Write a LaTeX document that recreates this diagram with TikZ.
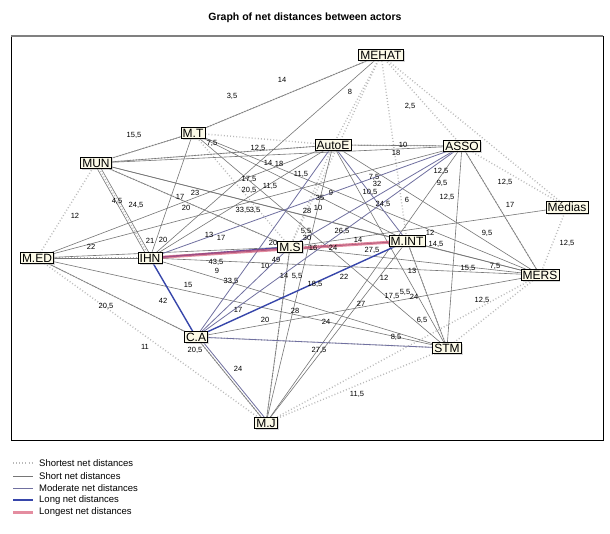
\documentclass[tikz,border=0pt]{standalone}
\usepackage{fontspec}
\setmainfont{Liberation Sans}
\usetikzlibrary{shadows}
\pgfdeclarelayer{bg}
\pgfdeclarelayer{paper}
\pgfsetlayers{paper,bg,main}
\definecolor{shortc}{RGB}{118,118,118}
\definecolor{dotc}{RGB}{185,185,185}
\definecolor{modc}{RGB}{112,112,160}
\definecolor{longc}{RGB}{55,70,170}
\definecolor{longestc}{RGB}{215,80,110}
\definecolor{boxfill}{RGB}{252,250,232}
\tikzset{
  actor/.style={draw=black, line width=0.8pt, fill=boxfill, inner sep=1.6pt,
    font=\fontsize{12}{12}\selectfont, drop shadow={shadow xshift=1.5pt, shadow yshift=-1.5pt, fill=gray!60}},
  shortest/.style={draw=dotc, line width=1.4pt, dash pattern=on 0.9pt off 2.2pt},
  short/.style={draw=shortc, line width=0.6pt},
  moderate/.style={draw=modc, line width=0.8pt},
  longd/.style={draw=longc, line width=1.4pt},
  longest/.style={draw=longestc, line width=3pt, opacity=0.65},
  lbl/.style={font=\fontsize{7.5}{7.5}\selectfont, inner sep=0pt},
  legtxt/.style={font=\fontsize{9.5}{9.5}\selectfont, anchor=west, inner sep=0pt}
}
\begin{document}
\begin{tikzpicture}[x=1pt,y=-1pt]
\useasboundingbox (0,0) rectangle (610,533);
\begin{pgfonlayer}{paper}
\fill[white] (0,0) rectangle (610,533);
\end{pgfonlayer}
\node[font=\bfseries\fontsize{10.5}{10.5}\selectfont] (title) at (305,18) {Graph of net distances between actors};
\draw[black, line width=0.8pt] (11,36) rectangle (603,440);
\draw[gray, line width=1.6pt] (11,36) -- (603,36);

% actors
\node[actor] (MEHAT) at (381,55) {MEHAT};
\node[actor] (ASSO) at (462,146) {ASSO};
\node[actor] (AutoE) at (333,145) {AutoE};
\node[actor] (MT) at (193,133) {M.T};
\node[actor] (MUN) at (96,163) {MUN};
\node[actor] (MED) at (37,258) {M.ED};
\node[actor] (IHN) at (150,258) {IHN};
\node[actor] (MS) at (290,247) {M.S};
\node[actor] (MINT) at (407,241) {M.INT};
\node[actor] (Medias) at (567,207) {Médias};
\node[actor] (MERS) at (540,275) {MERS};
\node[actor] (CA) at (196,337) {C.A};
\node[actor] (STM) at (447,348) {STM};
\node[actor] (MJ) at (266,423) {M.J};

\begin{pgfonlayer}{bg}
\foreach \a/\b in {MED/MUN, MED/MJ, MED/CA, MUN/MT, MUN/AutoE, MUN/IHN, MT/MEHAT, MT/AutoE, MT/MS,
  MEHAT/AutoE, MEHAT/ASSO, MEHAT/Medias, MEHAT/MINT, MEHAT/MS, ASSO/Medias, ASSO/MERS, Medias/MERS,
  MERS/STM, STM/MJ, MJ/CA, MERS/MJ, AutoE/ASSO, MS/MINT, CA/STM, IHN/MS, AutoE/MS, MUN/MS, MED/IHN,
  MJ/MS, STM/MINT}
  \draw[shortest] (\a.center) -- (\b.center);
\foreach \a/\b in {MUN/MT, MT/MEHAT, MEHAT/IHN, MUN/AutoE, MUN/ASSO, MUN/MINT, MUN/MERS, MUN/MS,
  MT/IHN, MT/MINT, MT/MERS, MED/AutoE, MED/IHN, MED/CA, MED/MS, MED/STM, IHN/AutoE, IHN/MERS,
  IHN/STM, AutoE/MJ, AutoE/STM, AutoE/MERS, AutoE/ASSO, ASSO/STM, ASSO/MERS, ASSO/MJ, Medias/MS,
  MERS/CA, MERS/MINT, MERS/MS, STM/MINT, MJ/MS, MJ/MINT, MJ/CA, MT/STM, MED/ASSO}
  \draw[short] (\a.center) -- (\b.center);
\draw[short] ([xshift=-2pt]MUN.center) -- ([xshift=-2pt]IHN.center);
\draw[short] ([xshift=2pt]MUN.center) -- ([xshift=2pt]IHN.center);
\foreach \a/\b in {CA/STM, CA/AutoE, CA/ASSO, IHN/ASSO, MS/ASSO, CA/MS, IHN/MINT, AutoE/MINT}
  \draw[moderate] (\a.center) -- (\b.center);
\draw[moderate] ([xshift=3pt]CA.center) -- ([xshift=3pt]MJ.center);
\foreach \a/\b in {IHN/CA, CA/MINT, IHN/MS}
  \draw[longd] (\a.center) -- (\b.center);
\draw[longest] (IHN.center) -- (MINT.center);
\end{pgfonlayer}

% distance labels
\foreach \x/\y/\t [count=\i] in {
 282/80/14, 232/96/{3,5}, 350/92/8, 410/106/{2,5}, 134/135/{15,5}, 212/143/{7,5}, 258/148/{12,5},
 268/163/14, 279/164/18, 403/145/10, 396/153/18, 249/179/{17,5}, 249/190/{20,5}, 270/186/{11,5},
 301/174/{11,5}, 195/193/23, 180/197/17, 186/208/20, 117/201/{4,5}, 136/205/{24,5}, 75/216/12,
 243/210/{33,5}, 255/210/{3,5}, 320/198/35, 331/193/9, 307/211/28, 318/208/10, 374/177/{7,5},
 377/184/32, 370/192/{10,5}, 383/204/{24,5}, 407/200/6, 441/171/{12,5}, 442/183/{9,5}, 447/197/{12,5},
 505/182/{12,5}, 510/205/17, 487/233/{9,5}, 567/243/{12,5}, 430/233/12, 436/244/{14,5}, 468/268/{15,5},
 495/266/{7,5}, 412/271/13, 414/297/24, 209/235/13, 150/241/21, 163/240/20, 91/247/22, 221/238/17,
 273/243/20, 306/231/{5,5}, 307/238/30, 313/248/16, 333/248/24, 358/240/14, 342/231/{26,5},
 372/250/{27,5}, 216/262/{43,5}, 276/260/49, 265/266/10, 217/271/9, 231/281/{33,5}, 284/276/14,
 297/276/{5,5}, 315/284/{18,5}, 344/277/22, 384/278/12, 392/296/{17,5}, 405/292/{5,5}, 188/285/15,
 163/301/42, 238/310/17, 295/311/28, 265/320/20, 326/322/24, 361/304/27, 422/320/{6,5}, 482/300/{12,5},
 396/337/{8,5}, 319/350/{27,5}, 238/369/24, 106/306/{20,5}, 145/347/11, 195/350/{20,5}, 357/394/{11,5}}
  \node[lbl] (l\i) at (\x,\y) {\t};

% legend
\draw[shortest] (13,463) coordinate (ls1) -- (33,463) coordinate (le1);
\draw[short] (13,476) coordinate (ls2) -- (33,476) coordinate (le2);
\draw[moderate] (13,488) coordinate (ls3) -- (33,488) coordinate (le3);
\draw[longd] (13,500) coordinate (ls4) -- (33,500) coordinate (le4);
\draw[longest] (13,512) coordinate (ls5) -- (33,512) coordinate (le5);
\node[legtxt] (t1) at (39,463) {Shortest net distances};
\node[legtxt] (t2) at (39,476) {Short net distances};
\node[legtxt] (t3) at (39,488) {Moderate net distances};
\node[legtxt] (t4) at (39,500) {Long net distances};
\node[legtxt] (t5) at (39,512) {Longest net distances};
\end{tikzpicture}
\end{document}
